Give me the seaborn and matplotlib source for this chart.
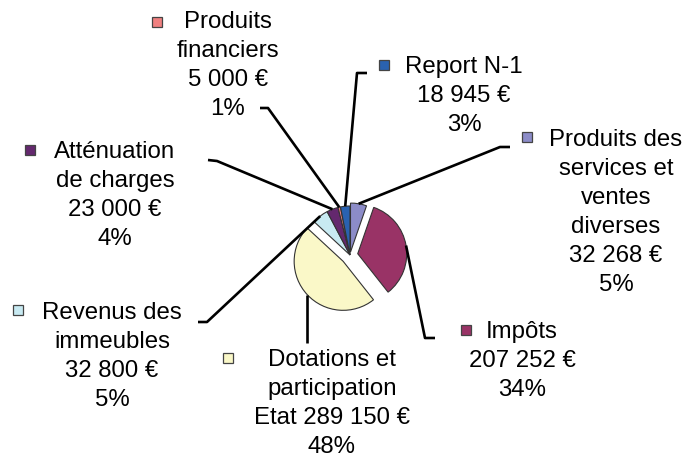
import numpy as np
import matplotlib
matplotlib.use("Agg")
import matplotlib.pyplot as plt
import seaborn as sns

sns.set_theme(style="white")
plt.rcParams['font.family'] = ['Liberation Sans', 'DejaVu Sans']

# data, clockwise from 12 o'clock
categories = ["Produits des\nservices et\nventes\ndiverses\n",
              "Impôts\n",
              "Dotations et\nparticipation\nEtat ",
              "Revenus des\nimmeubles\n",
              "Atténuation\nde charges\n",
              "Produits\nfinanciers\n",
              "Report N-1\n"]
amounts = [32268, 207252, 289150, 32800, 23000, 5000, 18945]
colors = ["#8c8cc8", "#993366", "#faf8c8", "#c8eaf2", "#64286e", "#f08080", "#2a62b0"]
explode = [0.06, 0.16, 0.19, 0, 0, 0, 0]

W, H = 688, 454
# layout in picture pixels (y down): text centre x, first line y, marker xy, elbow, end
layout = [
    (616, 140, (527, 137), (500, 147), (510, 147)),
    (522, 332, (466, 330), (425, 338), (435, 338)),
    (332, 360, (228, 358), None, None),
    (112, 313, (18, 310), (207, 322), (198, 322)),
    (115, 152, (30, 150), (217, 161), (208, 160)),
    (228, 22, (157, 22), (268, 108), (260, 108)),
    (464, 67, (384, 65), (357, 73), (367, 73)),
]
center = (350, H - 255)
radius = 49
line_h = 29


def fmt_amount(v):
    return "{:,}".format(v).replace(",", " ") + " €"


fig = plt.figure(figsize=(W / 100, H / 100), dpi=100)
ax = fig.add_axes([0, 0, 1, 1])

# explode in pie() is in data units, so scale by the radius
wedges, _ = ax.pie(amounts, colors=colors, explode=[e * radius for e in explode],
                   startangle=90, counterclock=False, center=center, radius=radius,
                   wedgeprops=dict(edgecolor="#333333", linewidth=0.8))
ax.set_xlim(0, W)
ax.set_ylim(0, H)
ax.set_aspect("equal")
ax.axis("off")

total = sum(amounts)
for w, name, v, col, (tx, ty, mk, elbow, end) in zip(wedges, categories, amounts,
                                                      colors, layout):
    pct = "{:.0f}%".format(v / total * 100)
    lines = (name + fmt_amount(v) + "\n" + pct).split("\n")
    for i, ln in enumerate(lines):
        ax.text(tx, H - (ty + i * line_h), ln, ha="center", va="center",
                fontsize=17.3, color="black")
    ax.plot(mk[0], H - mk[1], marker="s", markersize=7.5, color=col,
            markeredgecolor="#444444", markeredgewidth=0.9)

    # leader line from the wedge rim at its mid angle
    theta = np.deg2rad((w.theta1 + w.theta2) / 2)
    cx, cy = w.center
    sx, sy = cx + w.r * np.cos(theta), cy + w.r * np.sin(theta)
    if elbow is None:
        xs, ys = [sx, sx], [sy, H - 343]
    else:
        xs = [sx, elbow[0], end[0]]
        ys = [sy, H - elbow[1], H - end[1]]
    ax.plot(xs, ys, color="black", linewidth=1.9, solid_capstyle="butt")

fig.savefig("out.png", dpi=100)
